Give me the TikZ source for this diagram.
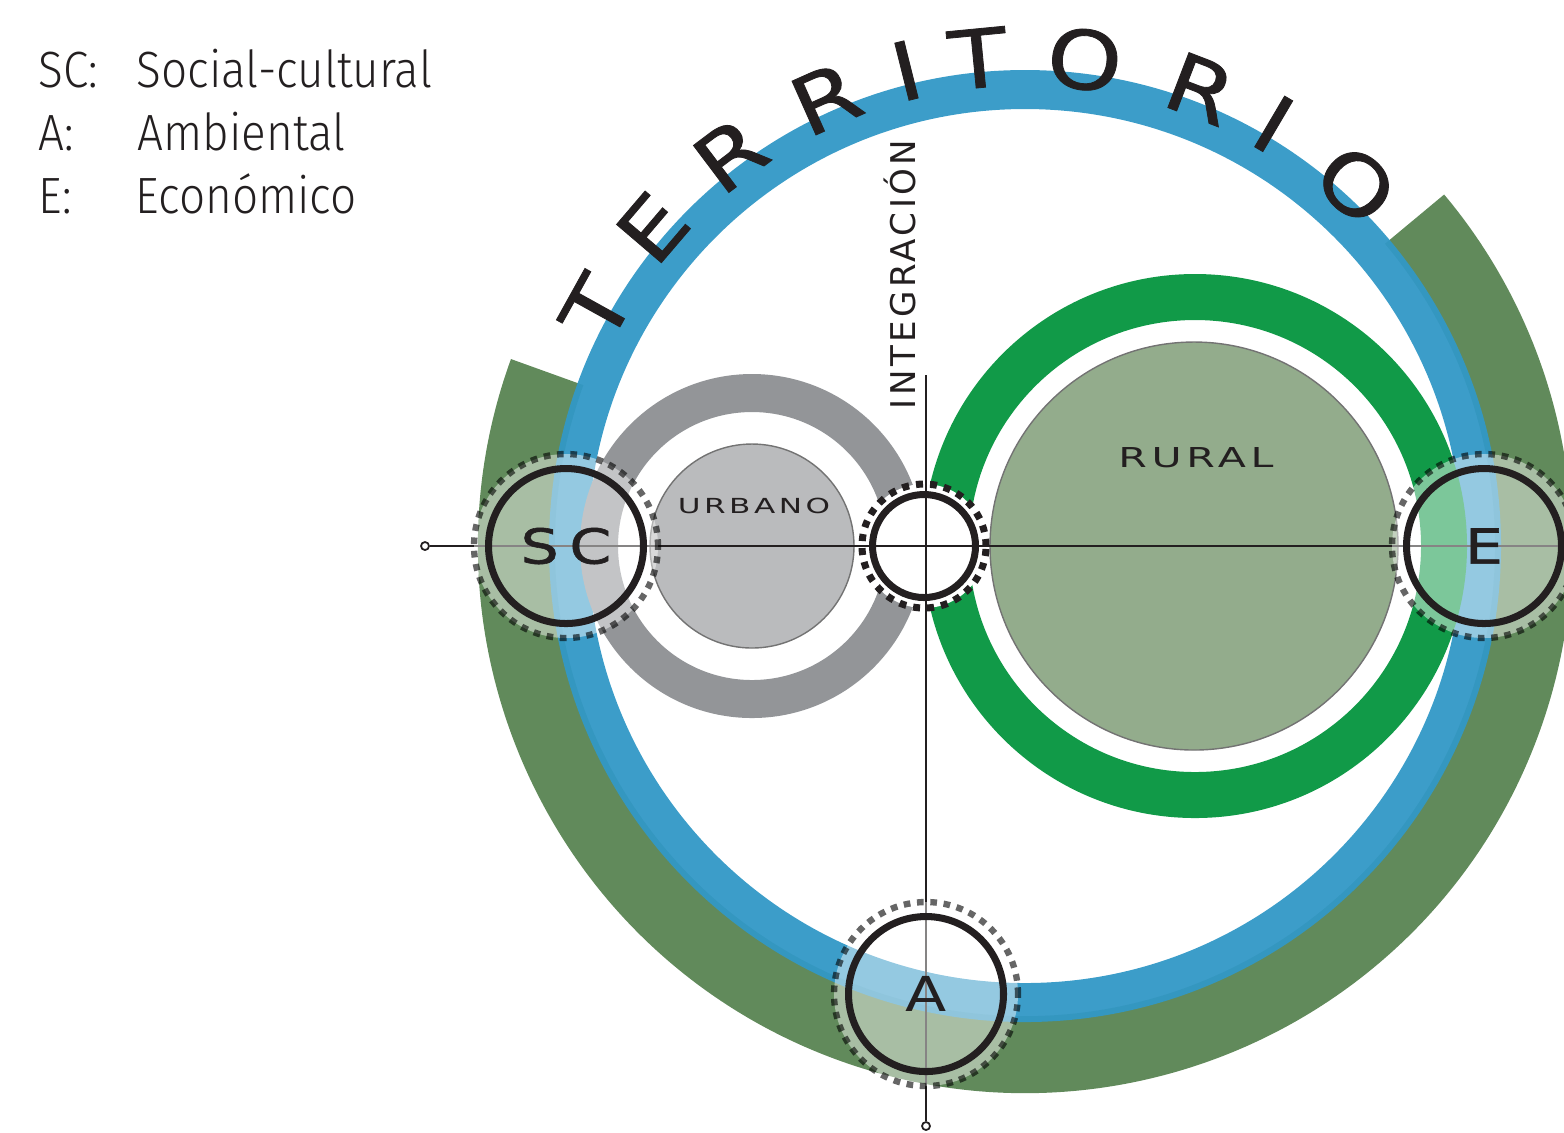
\documentclass[tikz,border=0pt]{standalone}
\usepackage{fontspec}
\setmainfont{DejaVu Sans}
\newfontfamily\legendfont[FakeStretch=0.9]{Fira Sans Light}
\newfontfamily\widefont[FakeStretch=1.25]{DejaVu Sans}
\newfontfamily\heavywide[FakeStretch=1.25, FakeBold=1.2]{DejaVu Sans}
\newfontfamily\spacedfont[FakeStretch=1.5, LetterSpace=17]{DejaVu Sans}
\newfontfamily\titlefont[FakeStretch=1.18, FakeBold=1]{DejaVu Sans}
\usetikzlibrary{calc}
\newcommand{\pxu}{0.1mm}
\definecolor{terrblue}{RGB}{50,152,198}
\definecolor{beltgreen}{RGB}{97,138,91}
\definecolor{urbring}{RGB}{147,149,152}
\definecolor{urbfill}{RGB}{186,187,189}
\definecolor{rurring}{RGB}{17,154,72}
\definecolor{rurfill}{RGB}{147,172,140}
\definecolor{inkblack}{RGB}{35,31,32}
\tikzstyle{legendtxt} = [anchor=base west, inner sep=0pt, text=inkblack, font=\legendfont\fontsize{14.5}{16}\selectfont]
\tikzstyle{disc} = [circle, draw=black!55, line width=0.4pt, inner sep=0pt]
\tikzstyle{halo} = [circle, inner sep=0pt, minimum size=184*\pxu, fill=white, fill opacity=.45, draw=black, draw opacity=.6, line width=1.8pt, dash pattern=on 1.9pt off 1.9pt]
\tikzstyle{ringnode} = [circle, inner sep=0pt, minimum size=155*\pxu, draw=inkblack, line width=2pt, text=inkblack, font=\heavywide\fontsize{13.7}{15}\selectfont]
\tikzstyle{hubdots} = [inkblack, line width=2pt, dash pattern=on 2pt off 2pt]
\tikzstyle{endpt} = [circle, draw=inkblack, fill=white, line width=0.5pt, inner sep=0pt, minimum size=8*\pxu]
\tikzstyle{axisline} = [inkblack, line width=0.5pt]
\tikzstyle{tagletter} = [inner sep=0pt, text=inkblack, font=\titlefont\fontsize{23}{25}\selectfont]
\tikzstyle{capword} = [inner sep=0pt, anchor=base, text=inkblack, font=\spacedfont]

\begin{document}
\begin{tikzpicture}[x=\pxu,y=\pxu]
\useasboundingbox (0,0) rectangle (1564,-1132);
\coordinate (ctr) at (1025,-546);

% legend
\node[legendtxt] (lsc) at (38,-87) {SC:};
\node[legendtxt] (lscd) at (136,-87) {Social-cultural};
\node[legendtxt] (la) at (38,-150) {A:};
\node[legendtxt] (lad) at (137,-150) {Ambiental};
\node[legendtxt] (le) at (38,-213) {E:};
\node[legendtxt] (led) at (135,-213) {Económico};

% territorio: belt + ring
\draw[beltgreen, line width=77*\pxu] ([shift={(160:508.5)}]ctr) arc[start angle=160, end angle=400, radius=508.5];
\draw[terrblue, line width=39*\pxu, opacity=.95] (ctr) circle[radius=456.5];
\foreach \ch/\ang [count=\i] in {T/151, E/139.5, R/127, R/114, I/104, T/95.5, O/83, R/69, I/59.5, O/47.5}
  \node[tagletter, rotate=\ang-90] (ter\i) at ([shift={(\ang:490)}]ctr) {\ch};

% urbano / rural
\draw[urbring, line width=38*\pxu] (752,-546) circle[radius=153];
\draw[rurring, line width=46*\pxu] (1195,-546) circle[radius=249];
\node[disc, fill=urbfill, minimum size=204*\pxu] (urb) at (752,-546) {};
\node[disc, fill=rurfill, minimum size=408*\pxu] (rur) at (1194,-546) {};
\node[capword] (urbtxt) at (754,-513) {\fontsize{5.9}{7}\selectfont URBANO};
\node[capword] (rurtxt) at (1196,-467) {\fontsize{7.8}{9}\selectfont RURAL};

% hub
\node[circle, fill=white, inner sep=0pt, minimum size=124*\pxu] (hub) at (924,-546) {};
\draw[hubdots] (hub.center) circle[radius=62];
\draw[inkblack, line width=7*\pxu] (hub.center) circle[radius=51.5];

% axes
\node[endpt] (hl) at (425,-546) {};
\coordinate (hr) at (1564,-546);
\coordinate (vt) at (926,-375);
\node[endpt] (vb) at (926,-1126) {};
\draw[axisline] (hl) -- (hr);
\draw[axisline] (vt) -- (vb);
\node[inner sep=0pt, rotate=90, anchor=base west, text=inkblack, font=\fontsize{9.7}{11}\selectfont\addfontfeature{LetterSpace=10}] (integ) at (915,-410) {INTEGRACIÓN};

% SC, E, A
\node[halo] (schalo) at (566,-546) {};
\node[ringnode] (sc) at (schalo) {S\hspace{3pt}C};
\node[halo] (ehalo) at (1484,-546) {};
\node[ringnode] (e) at (ehalo) {E};
\node[halo] (ahalo) at (926,-994) {};
\node[ringnode, font=\widefont\fontsize{13.7}{15}\selectfont] (a) at (ahalo) {A};
\end{tikzpicture}
\end{document}
